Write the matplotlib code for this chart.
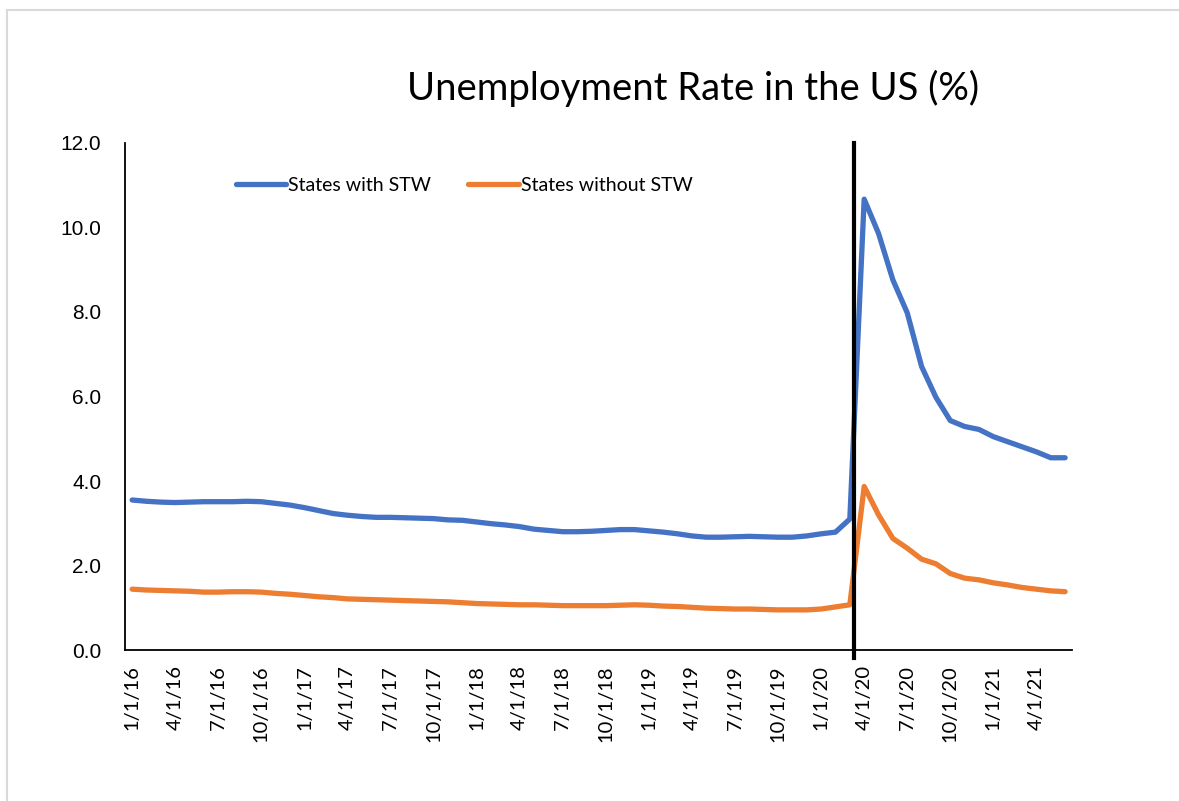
import matplotlib
matplotlib.use("Agg")
import matplotlib.pyplot as plt
from matplotlib.lines import Line2D

# monthly observations, Jan 2016 - Jun 2021
months = [f"{m}/1/{y}" for y in range(16, 22) for m in range(1, 13)][:66]

with_stw = [3.55, 3.52, 3.50, 3.49, 3.50, 3.51, 3.51, 3.51, 3.52, 3.51,
            3.47, 3.43, 3.37, 3.30, 3.23, 3.19, 3.16, 3.14, 3.14, 3.13,
            3.12, 3.11, 3.08, 3.07, 3.03, 2.99, 2.96, 2.92, 2.86, 2.83,
            2.80, 2.80, 2.81, 2.83, 2.85, 2.85, 2.82, 2.79, 2.75, 2.70,
            2.67, 2.67, 2.68, 2.69, 2.68, 2.67, 2.67, 2.70, 2.75, 2.79,
            3.10, 10.67, 9.86, 8.76, 7.98, 6.71, 5.98, 5.43, 5.29, 5.22,
            5.05, 4.93, 4.81, 4.69, 4.55, 4.55]

without_stw = [1.44, 1.42, 1.41, 1.40, 1.39, 1.37, 1.37, 1.38, 1.38, 1.37,
               1.34, 1.32, 1.29, 1.26, 1.24, 1.21, 1.20, 1.19, 1.18, 1.17,
               1.16, 1.15, 1.14, 1.12, 1.10, 1.09, 1.08, 1.07, 1.07, 1.06,
               1.05, 1.05, 1.05, 1.05, 1.06, 1.07, 1.06, 1.04, 1.03, 1.01,
               0.99, 0.98, 0.97, 0.97, 0.96, 0.95, 0.95, 0.95, 0.97, 1.02,
               1.07, 3.87, 3.20, 2.64, 2.41, 2.15, 2.04, 1.81, 1.70, 1.66,
               1.59, 1.54, 1.48, 1.44, 1.40, 1.38]

# covid marker, in months since 1/1/16 (mid March 2020)
covid_marker = 50.3

plt.rcParams['font.family'] = ['Lato', 'DejaVu Sans']

fig = plt.figure(figsize=(11.79, 8.01), dpi=100)
ax = fig.add_axes([0.106, 0.1885, 0.8035, 0.633])

x = list(range(len(months)))
ax.plot(x, with_stw, color='#4472C4', lw=3.8, solid_joinstyle='round',
        solid_capstyle='round', label='States with STW')
ax.plot(x, without_stw, color='#ED7D31', lw=3.8, solid_joinstyle='round',
        solid_capstyle='round', label='States without STW')
ax.axvline(covid_marker, ymin=-0.015, ymax=1, color='black', lw=3, clip_on=False)

ax.set_xlim(-0.5, len(months) - 0.5)
ax.set_ylim(0, 12)
ax.set_yticks([0, 2, 4, 6, 8, 10, 12])
ax.set_yticklabels([f"{v:.1f}" for v in [0, 2, 4, 6, 8, 10, 12]],
                   fontsize=15, family=['Liberation Sans', 'DejaVu Sans'])
ax.set_xticks(x[::3])
ax.set_xticklabels(months[::3], rotation=90, fontsize=14.5)
ax.tick_params(axis='y', length=0, pad=17)
ax.tick_params(axis='x', length=0, pad=11)

for s in ['top', 'right']:
    ax.spines[s].set_visible(False)
for s in ['left', 'bottom']:
    ax.spines[s].set_linewidth(1.3)
    ax.spines[s].set_color('black')

ax.legend(loc='center', bbox_to_anchor=(0.358, 0.917), ncol=2, frameon=False,
          fontsize=14, handlelength=2.6, handletextpad=0.1, columnspacing=1.9)

fig.text(0.588, 0.89, 'Unemployment Rate in the US (%)', fontsize=27.5,
         ha='center', va='center')

# chart border
fig.add_artist(Line2D([0.006, 1.0], [0.987, 0.987], color='#d9d9d9', lw=1.5))
fig.add_artist(Line2D([0.006, 0.006], [0.0, 0.987], color='#d9d9d9', lw=1.5))

plt.savefig("out.png", dpi=100)
